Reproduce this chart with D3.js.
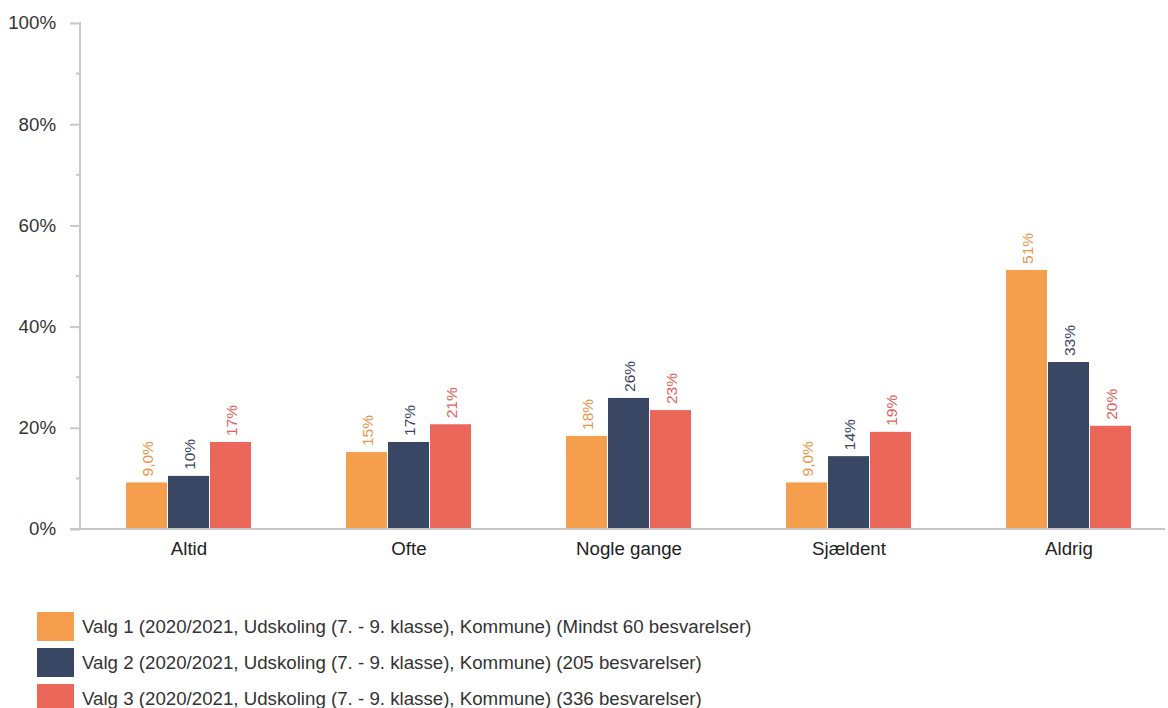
<!DOCTYPE html>
<html><head><meta charset="utf-8">
<script src="https://cdn.jsdelivr.net/npm/d3@7"></script>
<style>body{margin:0;background:#fff;}svg{display:block;font-family:"Liberation Sans",Arial,sans-serif;}</style>
</head><body><svg id="c" width="1168" height="708"></svg>
<script>
const categories = ["Altid","Ofte","Nogle gange","Sjældent","Aldrig"];
const seriesNames = [
  "Valg 1 (2020/2021, Udskoling (7. - 9. klasse), Kommune) (Mindst 60 besvarelser)",
  "Valg 2 (2020/2021, Udskoling (7. - 9. klasse), Kommune) (205 besvarelser)",
  "Valg 3 (2020/2021, Udskoling (7. - 9. klasse), Kommune) (336 besvarelser)"
];
const valg1 = [9.2, 15.2, 18.4, 9.2, 51.2];
const valg2 = [10.5, 17.2, 25.9, 14.4, 33.0];
const valg3 = [17.2, 20.7, 23.5, 19.2, 20.4];
const labels1 = ["9,0%","15%","18%","9,0%","51%"];
const labels2 = ["10%","17%","26%","14%","33%"];
const labels3 = ["17%","21%","23%","19%","20%"];
const yTicks = [0,20,40,60,80,100];
const colors = ["#F59E4E","#394764","#EA675A"];
const labelColors = ["#E8954A","#394764","#E0625A"];

const series = [valg1, valg2, valg3];
const labels = [labels1, labels2, labels3];
const svg = d3.select("#c");
const y = d3.scaleLinear().domain([0,100]).range([529,23]);
const x = d3.scaleBand().domain(categories).range([79,1179]);
const x1 = d3.scaleBand().domain([0,1,2]).range([0,126]);
const groupOff = (x.bandwidth()-126)/2;

// minor ticks
svg.append("g").selectAll("line").data(d3.range(10,100,20)).join("line")
  .attr("x1",76).attr("x2",80).attr("y1",d=>y(d)).attr("y2",d=>y(d))
  .attr("stroke","#c8c8c8").attr("stroke-width",2);
// y axis
const ya = svg.append("g").attr("transform","translate(80,0)")
  .call(d3.axisLeft(y).tickValues(yTicks).tickFormat(d=>d+"%").tickSize(10).tickPadding(14));
ya.select(".domain").attr("stroke","#c8c8c8").attr("stroke-width",2).attr("d","M0,22V529");
ya.selectAll(".tick line").attr("stroke","#c8c8c8").attr("stroke-width",2);
ya.selectAll(".tick text").attr("font-size",18.7).attr("fill","#333").attr("font-family","Liberation Sans, Arial, sans-serif");

// bars
categories.forEach((c,i)=>{
  series.forEach((s,j)=>{
    const bx = x(c)+groupOff+x1(j);
    svg.append("rect").attr("x",bx).attr("y",y(s[i])).attr("width",x1.bandwidth()-1)
      .attr("height",y(0)-y(s[i])).attr("fill",colors[j]);
    svg.append("text").attr("transform",`translate(${bx+x1.bandwidth()/2+5.5},${y(s[i])-6}) rotate(-90)`)
      .attr("font-size",15.5).attr("fill",labelColors[j]).attr("text-anchor","start").text(labels[j][i]);
  });
});

// baseline
svg.append("line").attr("x1",70).attr("x2",1165).attr("y1",529).attr("y2",529)
  .attr("stroke","#c8c8c8").attr("stroke-width",2);

// category labels
svg.append("g").selectAll("text").data(categories).join("text")
  .attr("x",d=>x(d)+x.bandwidth()/2).attr("y",555).attr("text-anchor","middle")
  .attr("font-size",18.7).attr("fill","#222").text(d=>d);

// legend
const lg = svg.append("g").selectAll("g").data(seriesNames).join("g")
  .attr("transform",(d,i)=>`translate(37,${612+i*36})`);
lg.append("rect").attr("width",37).attr("height",29).attr("fill",(d,i)=>colors[i]);
lg.append("text").attr("x",45).attr("y",21).attr("font-size",18.7).attr("fill","#333").text(d=>d);
</script></body></html>
